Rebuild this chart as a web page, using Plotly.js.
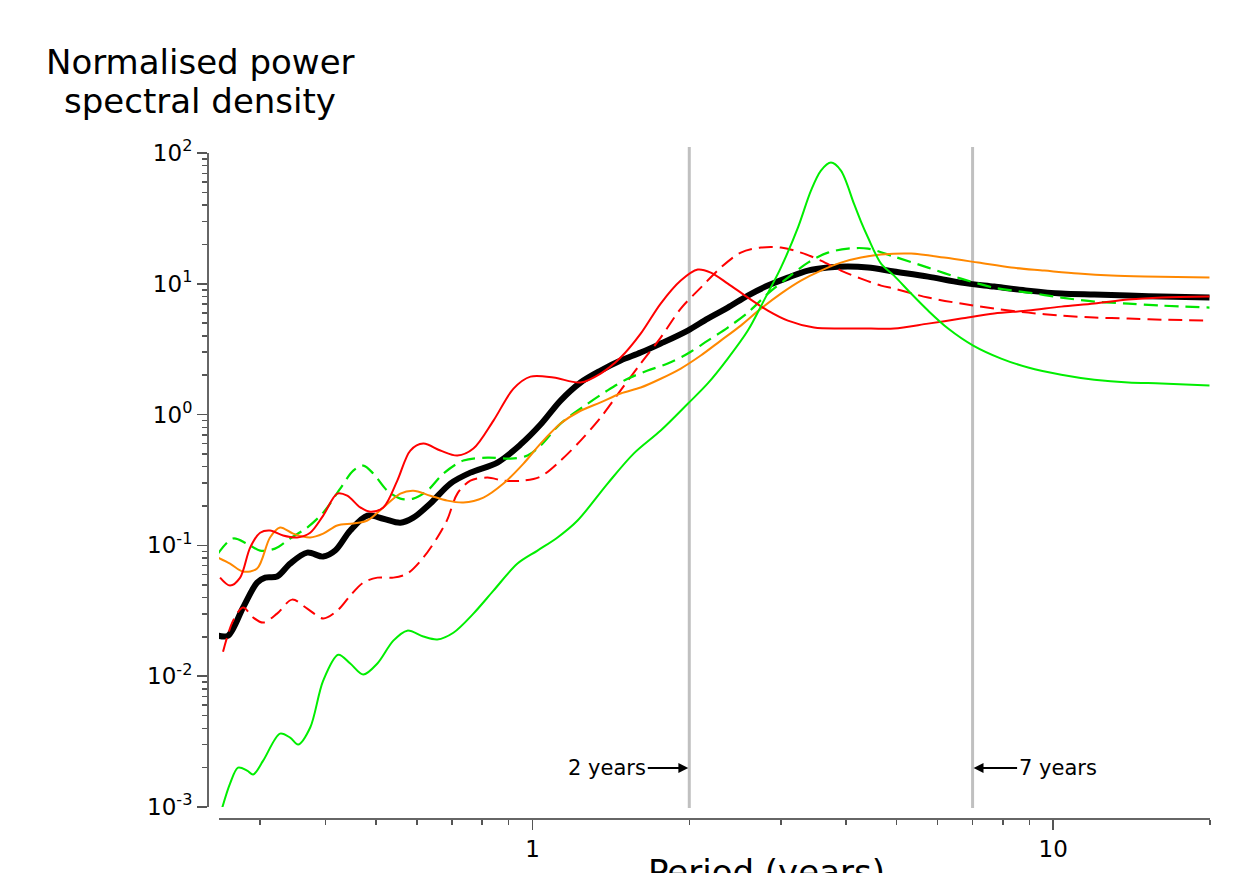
<!DOCTYPE html>
<html>
<head>
<meta charset="utf-8">
<script src="https://cdn.plot.ly/plotly-3.0.1.min.js"></script>
<style>
html,body{margin:0;padding:0;background:#fff;}
#chart{width:1233px;height:873px;}
</style>
</head>
<body>
<div id="chart"></div>
<script>
// ---- data (period in years, normalised PSD) ----
var blackPeriod = [0.2489,0.2602,0.2781,0.2959,0.3066,0.3232,0.3424,0.3693,0.3963,0.4179,0.4467,0.4817,0.5170,0.5574,0.5904,0.6365,0.6954,0.7598,0.8563,0.9482,1.0361,1.1320,1.2368,1.3512,1.4764,1.6133,1.7627,1.9869,2.1706,2.3714,2.5912,2.8310,3.0938,3.3801,3.6924,4.0343,4.4081,4.9461,5.7489,6.6527,7.7000,8.9493,10.361,11.991,13.939,16.134,19.953];
var blackPSD = [0.0204,0.0204,0.0335,0.0519,0.0567,0.0578,0.0726,0.0881,0.0821,0.0913,0.130,0.169,0.160,0.149,0.163,0.209,0.297,0.360,0.430,0.590,0.839,1.28,1.76,2.17,2.59,2.98,3.49,4.39,5.42,6.58,8.13,9.69,11.15,12.62,13.30,13.54,13.30,12.40,11.35,10.21,9.52,8.87,8.42,8.27,8.13,7.98,7.85];

var redPeriod = [0.2512,0.2625,0.2745,0.2869,0.2999,0.3133,0.3319,0.3532,0.3742,0.3963,0.4217,0.4407,0.4669,0.4882,0.5170,0.5500,0.5826,0.6170,0.6653,0.7173,0.7700,0.8414,0.9194,0.9912,1.0974,1.2368,1.3512,1.4764,1.6133,1.7627,1.9262,2.0767,2.1996,2.3714,2.5912,2.8310,3.0938,3.4714,3.9110,4.4668,4.9461,5.7489,6.6527,7.7000,8.9493,10.361,11.991,13.939,16.134,19.953];
var redPSD = [0.0567,0.0493,0.0567,0.0962,0.125,0.130,0.119,0.115,0.125,0.169,0.249,0.240,0.195,0.181,0.195,0.313,0.531,0.600,0.531,0.486,0.550,0.900,1.58,1.95,1.92,1.76,2.06,2.73,4.16,7.06,10.58,12.84,12.18,10.04,7.85,6.24,5.23,4.63,4.55,4.55,4.55,4.96,5.42,5.92,6.24,6.69,7.06,7.57,7.85,7.98];

var redDashPeriod = [0.2545,0.2661,0.2781,0.2907,0.3039,0.3232,0.3455,0.3693,0.3963,0.4217,0.4467,0.4732,0.5036,0.5404,0.5749,0.6170,0.6565,0.6863,0.7173,0.7598,0.8194,0.8794,0.9609,1.0361,1.1320,1.2368,1.3512,1.4764,1.6133,1.7627,1.9262,2.1044,2.2987,2.5119,2.7446,2.9992,3.2769,3.5801,3.9110,4.2734,4.6697,4.9461,5.7489,6.6527,7.7000,8.9493,10.361,11.991,13.939,16.134,19.953];
var redDashPSD = [0.0154,0.0266,0.0335,0.0281,0.0257,0.0301,0.0385,0.0329,0.0276,0.0317,0.0413,0.0519,0.0567,0.0567,0.0609,0.0807,0.115,0.158,0.249,0.313,0.330,0.313,0.313,0.336,0.445,0.633,0.949,1.53,2.46,3.88,6.46,9.35,13.30,17.32,18.92,18.92,17.32,15.04,12.62,10.96,9.69,9.19,7.85,7.06,6.46,6.02,5.71,5.52,5.42,5.32,5.23];

var greenPeriod = [0.2533,0.2625,0.2720,0.2831,0.2907,0.3039,0.3275,0.3424,0.3548,0.3742,0.3963,0.4236,0.4467,0.4732,0.5036,0.5404,0.5749,0.6170,0.6565,0.7047,0.7700,0.8414,0.9358,1.0224,1.1170,1.2204,1.3937,1.5640,1.7627,1.9869,2.1706,2.3714,2.5912,2.7813,2.9992,3.2336,3.4255,3.5801,3.7418,3.9110,4.1427,4.2734,4.4081,4.6697,4.9461,5.3333,5.7489,6.2821,7.0196,7.9433,8.9493,10.361,11.991,13.939,16.134,19.953];
var greenPSD = [0.000972,0.00151,0.00200,0.00190,0.00177,0.00226,0.00364,0.00339,0.00300,0.00405,0.00926,0.0146,0.0125,0.0103,0.0125,0.0187,0.0223,0.0201,0.0191,0.0215,0.0301,0.0451,0.0726,0.0913,0.115,0.155,0.297,0.503,0.755,1.21,1.73,2.68,4.39,7.44,13.30,26.90,51.6,73.4,84.5,73.4,41.0,29.9,22.6,14.27,11.55,8.42,6.24,4.55,3.37,2.68,2.29,2.02,1.85,1.76,1.73,1.67];

var greenDashPeriod = [0.2489,0.2661,0.2831,0.2999,0.3203,0.3424,0.3693,0.3963,0.4273,0.4527,0.4732,0.4947,0.5263,0.5574,0.5904,0.6281,0.6742,0.7366,0.8194,0.9072,0.9781,1.0361,1.1320,1.2757,1.3937,1.5229,1.6641,1.8184,1.9869,2.1706,2.3714,2.5912,2.8310,3.0938,3.3801,3.6924,4.0343,4.4081,4.9461,5.7489,6.6527,7.7000,8.9493,10.361,11.991,13.939,16.134,19.953];
var greenDashPSD = [0.0866,0.113,0.103,0.0913,0.0945,0.113,0.137,0.178,0.272,0.373,0.407,0.354,0.262,0.228,0.228,0.262,0.354,0.445,0.469,0.461,0.486,0.579,0.854,1.21,1.53,1.88,2.17,2.46,2.93,3.68,4.63,6.02,8.42,11.15,14.52,17.32,18.58,18.58,16.14,13.30,10.96,9.35,8.57,7.85,7.31,7.06,6.81,6.58];

var orangePeriod = [0.2489,0.2625,0.2781,0.2959,0.3133,0.3275,0.3470,0.3742,0.3963,0.4217,0.4527,0.4817,0.5170,0.5574,0.5904,0.6365,0.6863,0.7366,0.8049,0.8794,0.9609,1.0361,1.1320,1.2368,1.3512,1.4764,1.6133,1.7627,1.9262,2.1044,2.2987,2.5119,2.7446,2.9992,3.2769,3.5801,3.9110,4.2734,4.6697,5.3333,6.1717,7.1765,8.3022,9.6090,11.170,12.928,14.962,19.953];
var orangePSD = [0.0807,0.0726,0.0631,0.0665,0.115,0.137,0.123,0.115,0.123,0.142,0.147,0.155,0.195,0.249,0.262,0.240,0.220,0.213,0.232,0.297,0.422,0.600,0.854,1.07,1.24,1.45,1.61,1.88,2.25,2.83,3.68,4.79,6.46,8.42,10.58,12.62,14.52,15.86,16.72,17.02,15.86,14.52,13.30,12.62,11.97,11.55,11.35,11.15];

// ---- axis tick values / labels ----
var xTickVals = [1, 10];
var xTickText = ['1', '10'];
var xMinorVals = [0.3,0.4,0.5,0.6,0.7,0.8,0.9,2,3,4,5,6,7,8,9,20];
var yTickVals = [0.001, 0.01, 0.1, 1, 10, 100];
var yTickText = ['10<sup>-3</sup>','10<sup>-2</sup>','10<sup>-1</sup>','10<sup>0</sup>','10<sup>1</sup>','10<sup>2</sup>'];
var yMinorVals = [];
[0.001,0.01,0.1,1,10].forEach(function(d){ for (var k=2;k<=9;k++) yMinorVals.push(+(k*d).toPrecision(3)); });
var markerPeriods = [2, 7];
var markerLabels = ['2 years', '7 years'];

var FONT = 'DejaVu Sans, sans-serif';

function tr(x, y, color, width, dash) {
  return {x: x, y: y, type: 'scatter', mode: 'lines', hoverinfo: 'skip',
          line: {color: color, width: width, dash: dash || 'solid', shape: 'spline', smoothing: 0.9}};
}

var data = [
  tr(blackPeriod, blackPSD, '#000000', 6),
  tr(redDashPeriod, redDashPSD, '#ff0000', 2, '14px,7px'),
  tr(greenDashPeriod, greenDashPSD, '#00e600', 2.2, '14px,7px'),
  tr(orangePeriod, orangePSD, '#ff8800', 2),
  tr(redPeriod, redPSD, '#ff0000', 2),
  tr(greenPeriod, greenPSD, '#00ee00', 2)
];

var W = 1233 - 207 - 23, H = 873 - 153 - 55;
function px2paperX(p){ return (p - 207) / W; }
function px2paperY(p){ return (818 - p) / H; }

var layout = {
  width: 1233, height: 873,
  margin: {l: 207, r: 23, t: 153, b: 55, pad: 0},
  paper_bgcolor: '#fff', plot_bgcolor: '#fff',
  showlegend: false,
  font: {family: FONT, color: '#000', size: 23},
  xaxis: {
    type: 'log', range: [Math.log10(0.25), Math.log10(20)],
    domain: [12 / W, 1], anchor: 'free', position: 0,
    showline: true, linecolor: '#666', linewidth: 1.5,
    showgrid: false, zeroline: false, automargin: false,
    ticks: 'outside', ticklen: 10, tickwidth: 1.5, tickcolor: '#555',
    tickmode: 'array', tickvals: xTickVals, ticktext: xTickText,
    tickfont: {family: FONT, size: 23, color: '#000'},
    minor: {tickmode: 'array', tickvals: xMinorVals, ticks: 'outside', ticklen: 5, tickwidth: 1.5, tickcolor: '#555', showgrid: false}
  },
  yaxis: {
    type: 'log', range: [-3, 2],
    domain: [11 / H, 1], anchor: 'free', position: 0,
    showline: true, linecolor: '#666', linewidth: 1.5,
    showgrid: false, zeroline: false, automargin: false,
    ticks: 'outside', ticklen: 10, tickwidth: 1.5, tickcolor: '#555',
    tickmode: 'array', tickvals: yTickVals, ticktext: yTickText,
    tickfont: {family: FONT, size: 23, color: '#000'},
    minor: {tickmode: 'array', tickvals: yMinorVals, ticks: 'outside', ticklen: 5, tickwidth: 1.5, tickcolor: '#555', showgrid: false}
  },
  shapes: markerPeriods.map(function(p){
    return {type: 'line', xref: 'x', yref: 'paper', x0: p, x1: p,
            y0: px2paperY(808), y1: px2paperY(147), layer: 'below',
            line: {color: '#c0c0c0', width: 3}};
  }),
  annotations: [
    {xref: 'paper', yref: 'paper', x: px2paperX(200), y: px2paperY(62), xanchor: 'center', yanchor: 'middle',
     text: 'Normalised power', showarrow: false, font: {family: FONT, size: 34, color: '#000'}},
    {xref: 'paper', yref: 'paper', x: px2paperX(200), y: px2paperY(101), xanchor: 'center', yanchor: 'middle',
     text: 'spectral density', showarrow: false, font: {family: FONT, size: 34, color: '#000'}},
    {xref: 'paper', yref: 'paper', x: px2paperX(766), y: px2paperY(872), xanchor: 'center', yanchor: 'middle',
     text: 'Period (years)', showarrow: false, font: {family: FONT, size: 34, color: '#000'}},
    {xref: 'x', yref: 'paper', x: Math.log10(markerPeriods[0]), y: px2paperY(768),
     text: markerLabels[0], showarrow: true, ax: -82, ay: 0, arrowhead: 2, arrowsize: 1.1, arrowwidth: 1.8,
     arrowcolor: '#000', standoff: 1, font: {family: FONT, size: 21, color: '#000'}},
    {xref: 'x', yref: 'paper', x: Math.log10(markerPeriods[1]), y: px2paperY(768),
     text: markerLabels[1], showarrow: true, ax: 85, ay: 0, arrowhead: 2, arrowsize: 1.1, arrowwidth: 1.8,
     arrowcolor: '#000', standoff: 1, font: {family: FONT, size: 21, color: '#000'}}
  ]
};

Plotly.newPlot('chart', data, layout, {staticPlot: true, displayModeBar: false});
</script>
</body>
</html>
